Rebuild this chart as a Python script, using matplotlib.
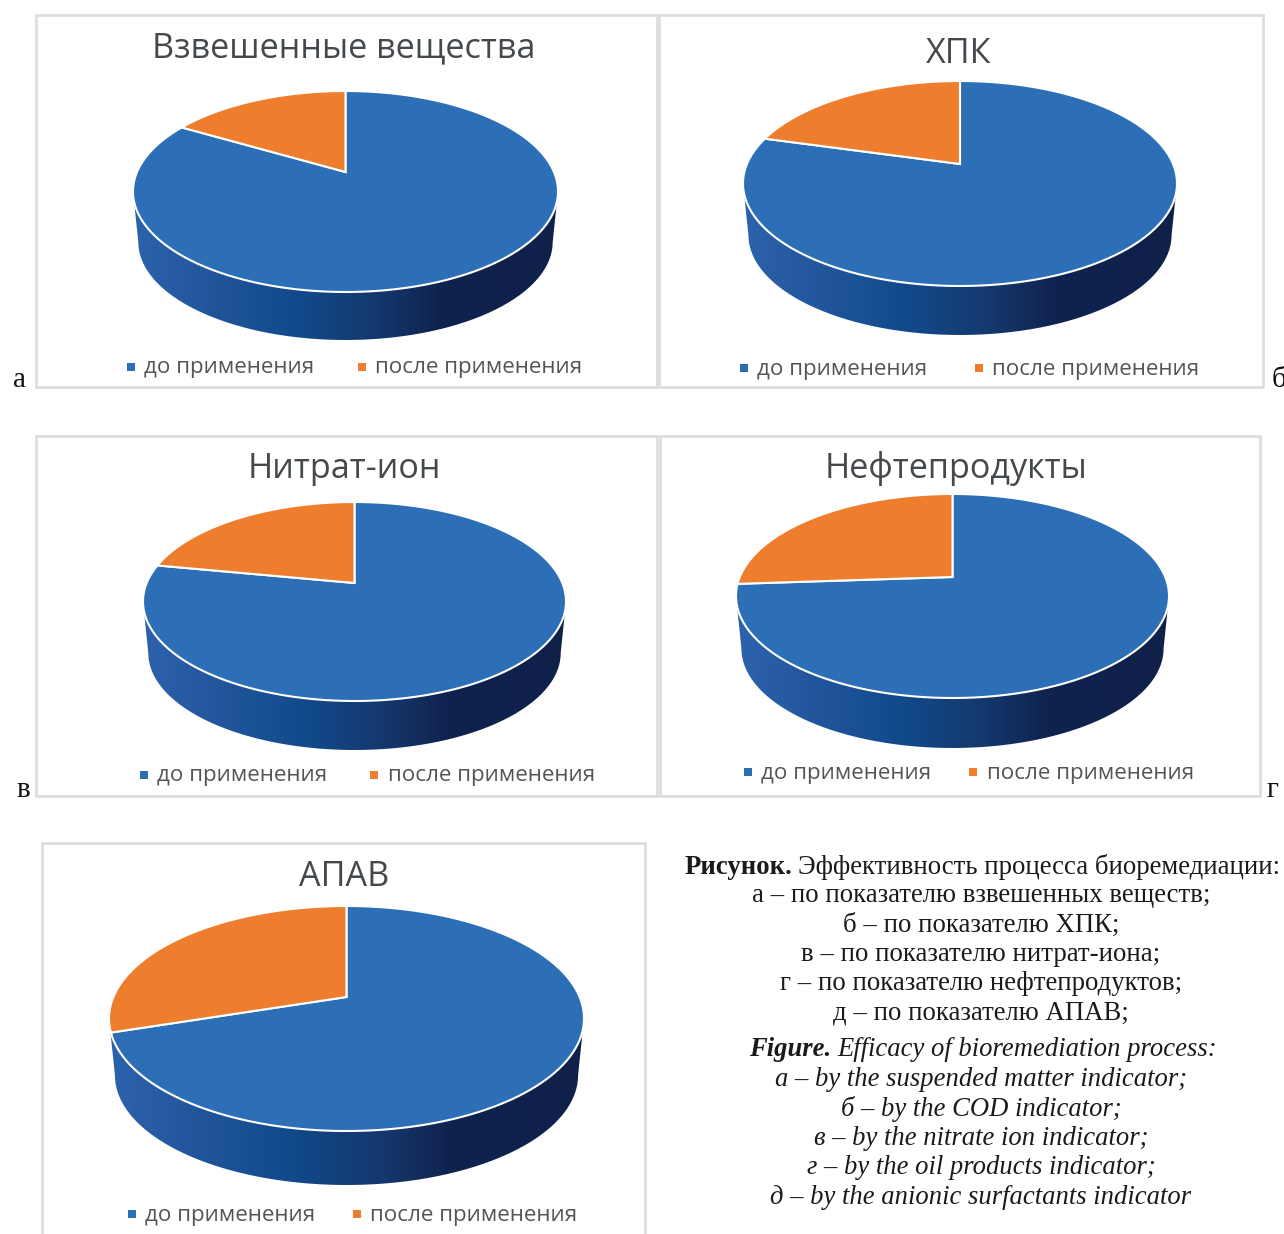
import numpy as np
import matplotlib
matplotlib.use("Agg")
import matplotlib.pyplot as plt
from matplotlib.colors import LinearSegmentedColormap
from matplotlib.patches import PathPatch, Rectangle
from matplotlib.path import Path

titles = ["Взвешенные вещества", "ХПК", "Нитрат-ион", "Нефтепродукты", "АПАВ"]
legend_names = ["до применения", "после применения"]
before = [86, 82.2, 80.9, 76.9, 73]
after = [14, 17.8, 19.1, 23.1, 27]

caption_ru = ["а – по показателю взвешенных веществ;",
              "б – по показателю ХПК;",
              "в – по показателю нитрат-иона;",
              "г – по показателю нефтепродуктов;",
              "д – по показателю АПАВ;"]
caption_en = ["а – by the suspended matter indicator;",
              "б – by the COD indicator;",
              "в – by the nitrate ion indicator;",
              "г – by the oil products indicator;",
              "д – by the anionic surfactants indicator"]

# layout of each panel in pixels: frame, ellipse, depth, apex, title, legend
frames = [(36, 15, 657, 387), (659, 15, 1263, 387), (36, 436, 657, 796),
          (660, 436, 1260, 796), (42, 843, 645, 1250)]
ellipses = [(345.5, 191.5, 212.5, 100.5), (960, 183.5, 217, 102.5),
            (354.5, 601.5, 211.5, 99.5), (952.5, 596, 216.5, 102),
            (346.5, 1018.5, 237.5, 112.5)]
depths = [48, 49, 49, 50, 54]
apex_y = [172, 164, 583, 577, 997]
title_pos = [(344, 48), (959, 54), (344, 469), (956, 469), (344, 877)]
legend_y = [367, 368, 775, 772, 1214]
legend_x = [(131, 144, 362, 375), (744, 757, 979, 992), (144, 157, 374, 388),
            (748, 761, 973, 987), (132, 145, 357, 370)]

BLUE = "#2c6fb7"
ORANGE = "#ef7d2e"
side_cmap = LinearSegmentedColormap.from_list(
    "side", [(0, "#2c62ad"), (0.14, "#25589f"), (0.38, "#114a8b"),
             (0.58, "#15376c"), (0.72, "#10234f"), (1, "#0f2149")])

fig = plt.figure(figsize=(12.84, 12.34), dpi=100)
ax = fig.add_axes([0, 0, 1, 1])
ax.axis("off")


def arc(cx, cy, rx, ry, t0, t1):
    # t runs clockwise from the top of the ellipse
    t = np.linspace(t0, t1, 200)
    return np.column_stack([cx + rx * np.sin(t), cy - ry * np.cos(t)])


def draw_pie(i):
    cx, cy, rx, ry = ellipses[i]
    rx2, ry2 = rx * 0.975, ry * 0.975
    cy2 = cy + ry + depths[i] - ry2

    # side wall, gradient clipped to the outline
    low = arc(cx, cy2, rx2, ry2, np.pi / 2, 3 * np.pi / 2)
    top = arc(cx, cy, rx, ry, 3 * np.pi / 2, np.pi / 2)
    outline = Path(np.vstack([low, top, low[:1]]))
    patch = PathPatch(outline, fc="none", ec="none", zorder=2)
    ax.add_patch(patch)
    grad = np.linspace(0, 1, 256).reshape(1, -1)
    im = ax.imshow(grad, cmap=side_cmap, aspect="auto", zorder=2,
                   extent=(cx - rx, cx + rx, cy + ry + depths[i], cy - ry))
    im.set_clip_path(patch)

    # top face, one wedge per value
    total = before[i] + after[i]
    split = 2 * np.pi * before[i] / total
    apex = np.array([[cx, apex_y[i]]])
    for t0, t1, col in [(0, split, BLUE), (split, 2 * np.pi, ORANGE)]:
        pts = np.vstack([apex, arc(cx, cy, rx, ry, t0, t1), apex])
        ax.add_patch(PathPatch(Path(pts, closed=True), fc=col, ec="white", lw=1.5,
                               joinstyle="miter", zorder=3))


for i in range(5):
    x0, y0, x1, y1 = frames[i]
    ax.add_patch(Rectangle((x0, y0), x1 - x0, y1 - y0, fc="white",
                           ec="#dedede", lw=2, zorder=1))
    draw_pie(i)
    ax.text(*title_pos[i], titles[i], family="Open Sans", fontsize=24.6,
            color="#44494d", ha="center", va="center", zorder=4)
    lx = legend_x[i]
    ax.plot(lx[0], legend_y[i], "s", ms=6, color=BLUE, mew=0, zorder=4)
    ax.plot(lx[2], legend_y[i], "s", ms=6, color=ORANGE, mew=0, zorder=4)
    for tx, name in zip((lx[1], lx[3]), legend_names):
        ax.text(tx, legend_y[i] + 1, name, family="Open Sans", fontsize=16.1,
                color="#555555", ha="left", va="center", zorder=4)

# panel letters sitting outside the frames
serif = "Liberation Serif"
for x, y, s in [(20, 380, "а"), (1279, 380, "б"), (23, 790, "в"), (1272, 790, "г")]:
    ax.text(x, y, s, family=serif, fontsize=21, color="#111111",
            ha="center", va="center", zorder=0)

# caption, russian block then english block
ax.text(685, 867, "Рисунок.", family=serif, weight="bold", fontsize=19.3,
        color="#1a1a1a", ha="left", va="center")
ax.text(798, 867, "Эффективность процесса биоремедиации:", family=serif,
        fontsize=19.3, color="#1a1a1a", ha="left", va="center")
for k, line in enumerate(caption_ru):
    ax.text(981, 896 + k * 29.3, line, family=serif, fontsize=19.3,
            color="#1a1a1a", ha="center", va="center")
ax.text(749, 1050, "Figure.", family=serif, weight="bold", style="italic",
        fontsize=19.2, color="#1a1a1a", ha="left", va="center")
ax.text(837, 1050, "Efficacy of bioremediation process:", family=serif,
        style="italic", fontsize=19.2, color="#1a1a1a", ha="left", va="center")
for k, line in enumerate(caption_en):
    ax.text(981, 1080 + k * 29.3, line, family=serif, style="italic",
            fontsize=19.2, color="#1a1a1a", ha="center", va="center")

ax.set_xlim(0, 1284)
ax.set_ylim(1234, 0)
fig.savefig("out.png", dpi=100, facecolor="white")
